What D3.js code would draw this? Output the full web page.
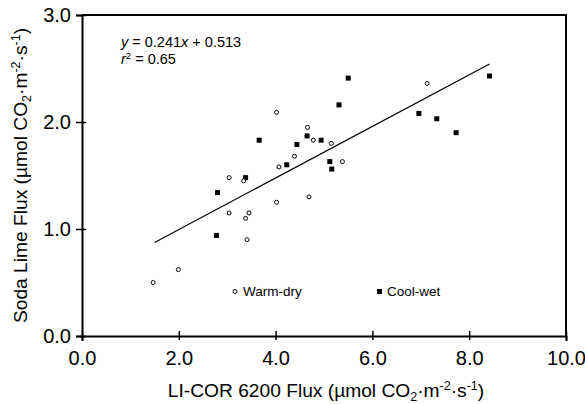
<!DOCTYPE html>
<html>
<head>
<meta charset="utf-8">
<script src="https://cdn.jsdelivr.net/npm/d3@7"></script>
<style>
  body { margin: 0; background: #fff; }
  svg { font-family: Arial, "Liberation Sans", sans-serif; }
</style>
</head>
<body>
<div id="chart"></div>
<script>
// Warm-dry sites (open circles)
const warmDryX = [1.47, 1.99, 3.04, 3.38, 3.45, 3.41, 4.02, 4.02, 4.07, 3.04, 3.34, 7.13, 4.66, 4.78, 5.15, 4.39, 5.38, 4.69];
const warmDryY = [0.50, 0.62, 1.15, 1.10, 1.15, 0.90, 1.25, 2.09, 1.58, 1.48, 1.45, 2.36, 1.95, 1.83, 1.80, 1.68, 1.63, 1.30];

// Cool-wet sites (filled squares)
const coolWetX = [2.80, 2.78, 3.66, 4.23, 3.38, 5.50, 5.31, 8.42, 6.96, 7.33, 7.73, 4.65, 4.94, 4.44, 5.12, 5.16];
const coolWetY = [1.34, 0.94, 1.83, 1.60, 1.48, 2.41, 2.16, 2.43, 2.08, 2.03, 1.90, 1.87, 1.83, 1.79, 1.63, 1.56];

// regression y = 0.241x + 0.513 drawn over this x range
const fitSlope = 0.241;
const fitIntercept = 0.513;
const fitRange = [1.5, 8.42];

const xTicks = [0, 2, 4, 6, 8, 10];
const yTicks = [0, 1, 2, 3];

const width = 585;
const height = 404;
const margin = { top: 15, right: 19, bottom: 68, left: 82 };

const svg = d3.select("#chart")
    .append("svg")
    .attr("width", width)
    .attr("height", height);

const x = d3.scaleLinear().domain([0, 10]).range([margin.left, width - margin.right]);
const y = d3.scaleLinear().domain([0, 3]).range([height - margin.bottom, margin.top]);

// frame: top and right edges
svg.append("path")
    .attr("d", `M${x(0)},${y(3)}H${x(10)}V${y(0)}`)
    .attr("fill", "none")
    .attr("stroke", "#000")
    .attr("stroke-width", 2);

// x axis
const xAxis = svg.append("g")
    .attr("transform", `translate(0,${y(0)})`)
    .call(d3.axisBottom(x).tickValues(xTicks).tickFormat(d3.format(".1f")).tickSize(5).tickPadding(10));
xAxis.select(".domain").attr("stroke-width", 2);
xAxis.selectAll(".tick line").attr("y1", -5).attr("y2", 4).attr("stroke-width", 1.5);

// y axis
const yAxis = svg.append("g")
    .attr("transform", `translate(${x(0)},0)`)
    .call(d3.axisLeft(y).tickValues(yTicks).tickFormat(d3.format(".1f")).tickSize(6).tickPadding(5));
yAxis.select(".domain").attr("stroke-width", 2);
yAxis.selectAll(".tick line").attr("x1", -6).attr("x2", 4).attr("stroke-width", 1.5);

svg.selectAll(".tick text")
    .attr("font-size", 20)
    .attr("font-family", "Arial, 'Liberation Sans', sans-serif")
    .attr("fill", "#000");

// regression line
svg.append("line")
    .attr("x1", x(fitRange[0]))
    .attr("y1", y(fitSlope * fitRange[0] + fitIntercept))
    .attr("x2", x(fitRange[1]))
    .attr("y2", y(fitSlope * fitRange[1] + fitIntercept))
    .attr("stroke", "#000")
    .attr("stroke-width", 1.2);

// points
const warmDry = warmDryX.map((d, i) => ({ x: d, y: warmDryY[i] }));
const coolWet = coolWetX.map((d, i) => ({ x: d, y: coolWetY[i] }));

svg.append("g")
    .selectAll("rect")
    .data(coolWet)
    .join("rect")
    .attr("x", d => x(d.x) - 2.5)
    .attr("y", d => y(d.y) - 2.5)
    .attr("width", 5)
    .attr("height", 5)
    .attr("fill", "#000");

svg.append("g")
    .selectAll("circle")
    .data(warmDry)
    .join("circle")
    .attr("cx", d => x(d.x))
    .attr("cy", d => y(d.y))
    .attr("r", 2)
    .attr("fill", "#fff")
    .attr("stroke", "#000")
    .attr("stroke-width", 1);

// equation
const eq = svg.append("text")
    .attr("x", 121)
    .attr("y", 47)
    .attr("font-size", 14.5);
eq.append("tspan").attr("font-style", "italic").text("y");
eq.append("tspan").text(" = 0.241");
eq.append("tspan").attr("font-style", "italic").text("x");
eq.append("tspan").text(" + 0.513");

const r2 = svg.append("text")
    .attr("x", 121)
    .attr("y", 64)
    .attr("font-size", 14.5);
r2.append("tspan").attr("font-style", "italic").text("r");
r2.append("tspan").attr("font-size", 9.5).attr("dy", -5).text("2");
r2.append("tspan").attr("dy", 5).text(" = 0.65");

// legend
svg.append("circle")
    .attr("cx", 235).attr("cy", 291.5).attr("r", 2)
    .attr("fill", "#fff").attr("stroke", "#000");
svg.append("text").attr("x", 243).attr("y", 296).attr("font-size", 13.5).text("Warm-dry");

svg.append("rect")
    .attr("x", 377).attr("y", 289).attr("width", 5).attr("height", 5)
    .attr("fill", "#000");
svg.append("text").attr("x", 387).attr("y", 296).attr("font-size", 13.5).text("Cool-wet");

// axis titles
function unitTitle(sel) {
    sel.append("tspan").text("(\u00b5mol CO");
    sel.append("tspan").attr("font-size", 12.5).attr("dy", 4).text("2");
    sel.append("tspan").attr("dy", -4).text("\u00b7m");
    sel.append("tspan").attr("font-size", 12.5).attr("dy", -7).text("-2");
    sel.append("tspan").attr("dy", 7).text("\u00b7s");
    sel.append("tspan").attr("font-size", 12.5).attr("dy", -7).text("-1");
    sel.append("tspan").attr("dy", 7).text(")");
}

const xTitle = svg.append("text")
    .attr("x", 326)
    .attr("y", 397)
    .attr("text-anchor", "middle")
    .attr("font-size", 19.2);
xTitle.append("tspan").text("LI-COR 6200 Flux ");
unitTitle(xTitle);

const yTitle = svg.append("text")
    .attr("transform", `translate(27,${(y(0) + y(3)) / 2}) rotate(-90)`)
    .attr("text-anchor", "middle")
    .attr("font-size", 19.2);
yTitle.append("tspan").text("Soda Lime Flux ");
unitTitle(yTitle);
</script>
</body>
</html>
